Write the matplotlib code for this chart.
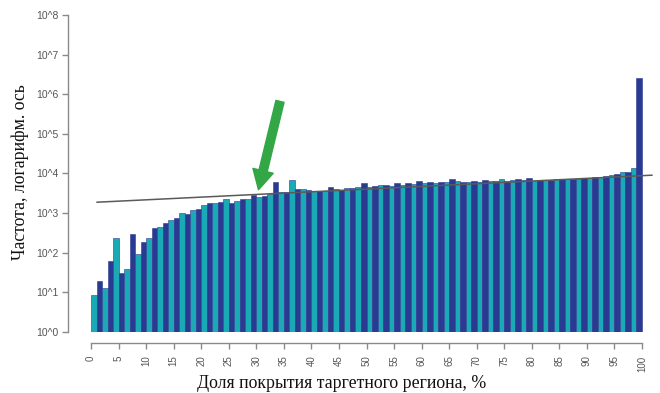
import numpy as np
import matplotlib
matplotlib.use("Agg")
import matplotlib.pyplot as plt

# ---- data ----
coverage_bins = list(range(0, 100))  # left edge of each 1%-wide coverage bin
frequency = [
    8.6, 19.5, 12.7, 62, 240, 30, 38, 295, 93, 190,
    234, 415, 440, 556, 676, 745, 1030, 955, 1200, 1300,
    1620, 1780, 1850, 1960, 2230, 1780, 2080, 2290, 2290, 2880,
    2620, 2700, 3000, 6250, 3500, 3500, 6900, 4000, 4000, 3800,
    3700, 3640, 3640, 4680, 4000, 3870, 4350, 4350, 4500, 5690,
    4680, 4930, 5250, 5250, 4880, 5900, 5140, 5690, 5470, 6480,
    5690, 6040, 5690, 6150, 6000, 7200, 6480, 6250, 6150, 6330,
    6150, 6900, 6480, 6480, 7300, 6480, 6900, 7200, 6900, 7600,
    6480, 6900, 6900, 6900, 7200, 7300, 7450, 7450, 7450, 7600,
    7800, 8100, 8100, 8400, 9200, 9600, 11200, 11200, 13400, 2500000,
]
trend_x = [1.1, 101.8]
trend_y = [1885, 9060]
arrow_from = (34.3, 10 ** 5.82)
arrow_to = (30.4, 10 ** 3.59)

ytick_vals = [10 ** k for k in range(0, 9)]
ytick_labels = ["10^%d" % k for k in range(0, 9)]
xtick_vals = list(range(0, 101, 5))
xtick_labels = [str(v) for v in xtick_vals]

xlabel = "Доля покрытия таргетного региона, %"
ylabel = "Частота, логарифм. ось"

# ---- style ----
c_cyan = "#1AAAB6"
c_dark = "#2B3A91"
colors = [c_cyan if i % 2 == 0 else c_dark for i in range(len(frequency))]

W, H = 660, 393
fig = plt.figure(figsize=(W / 100, H / 100), dpi=100)
ax = fig.add_axes([68 / W, (H - 332) / H, (655 - 68) / W, (332 - 13) / H])

ax.bar(coverage_bins, frequency, width=1.0, align="edge", color=colors,
       edgecolor=c_dark, linewidth=0.4, zorder=2)
ax.plot(trend_x, trend_y, color="#5a5a5a", lw=1.1, zorder=3, clip_on=False)

ax.set_yscale("log")
ax.set_ylim(1, 10 ** 8.05)
ax.set_xlim((68 - 91) / 5.51, (655 - 91) / 5.51)

ax.set_yticks(ytick_vals)
ax.set_yticklabels(ytick_labels)
ax.yaxis.set_minor_locator(matplotlib.ticker.NullLocator())
ax.set_xticks(xtick_vals)
ax.set_xticklabels(xtick_labels)

for s in ["top", "right"]:
    ax.spines[s].set_visible(False)
ax.spines["left"].set_bounds(1, 1e8)
ax.spines["bottom"].set_bounds(0, 100)
ax.spines["bottom"].set_position(("outward", 8))
for s in ["left", "bottom"]:
    ax.spines[s].set_color("#8a8a8a")
    ax.spines[s].set_linewidth(1.0)

ax.tick_params(axis="y", length=4, width=1.0, color="#8a8a8a", pad=3,
               labelsize=7.5, labelcolor="#555555")
ax.tick_params(axis="x", length=4, width=1.0, color="#8a8a8a", pad=5,
               labelsize=7, labelcolor="#555555", labelrotation=90)
for lab in ax.get_xticklabels() + ax.get_yticklabels():
    lab.set_family("Liberation Sans")

ax.annotate("", xy=arrow_to, xytext=arrow_from,
            arrowprops=dict(arrowstyle="simple,head_length=1.4,head_width=1.5,tail_width=0.6",
                            color="#33A645", mutation_scale=10, shrinkA=0, shrinkB=0),
            zorder=5)

fig.text(342 / W, 1 - 383 / H, xlabel, ha="center", va="center",
         family="Liberation Serif", fontsize=12.8, color="#111111")
fig.text(20 / W, 1 - 172 / H, ylabel, ha="center", va="center", rotation=90,
         family="Liberation Serif", fontsize=12.8, color="#111111")

fig.savefig("out.png", dpi=100)
